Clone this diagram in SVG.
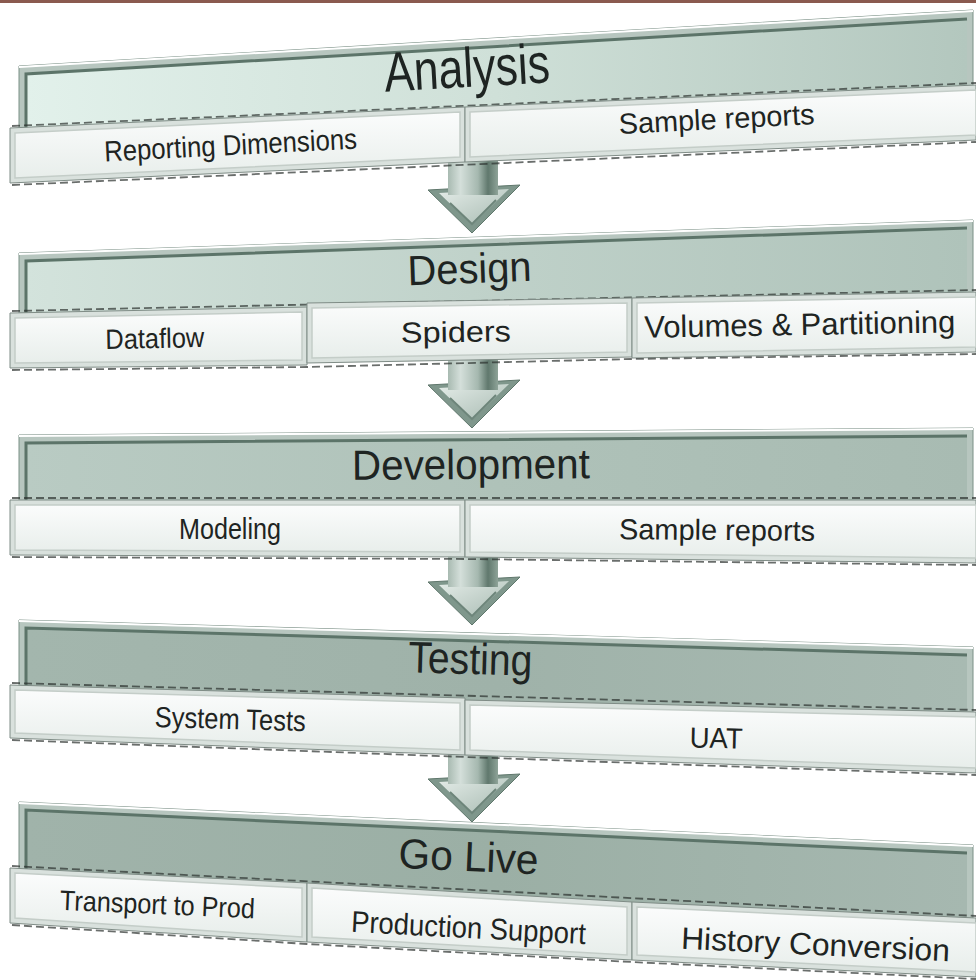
<svg xmlns="http://www.w3.org/2000/svg" width="976" height="980" viewBox="0 0 976 980">
<defs>
<linearGradient id="gA" x1="0" y1="0" x2="1" y2="0"><stop offset="0" stop-color="#e2f1eb"/><stop offset="0.5" stop-color="#cfe0d8"/><stop offset="1" stop-color="#b3c7be"/></linearGradient>
<linearGradient id="gD" x1="0" y1="0" x2="1" y2="0"><stop offset="0" stop-color="#d3e3dc"/><stop offset="0.5" stop-color="#bfd1c9"/><stop offset="1" stop-color="#afc3ba"/></linearGradient>
<linearGradient id="gV" x1="0" y1="0" x2="1" y2="0"><stop offset="0" stop-color="#b9cbc3"/><stop offset="0.5" stop-color="#afc2b9"/><stop offset="1" stop-color="#a8bbb2"/></linearGradient>
<linearGradient id="gT" x1="0" y1="0" x2="1" y2="0"><stop offset="0" stop-color="#a3b6ad"/><stop offset="0.5" stop-color="#9fb2a9"/><stop offset="1" stop-color="#a8bab2"/></linearGradient>
<linearGradient id="gG" x1="0" y1="0" x2="1" y2="0"><stop offset="0" stop-color="#a0b3aa"/><stop offset="0.5" stop-color="#9bafa5"/><stop offset="1" stop-color="#a6b8b0"/></linearGradient>
<linearGradient id="sub" x1="0" y1="0" x2="0" y2="1"><stop offset="0" stop-color="#fbfcfc"/><stop offset="1" stop-color="#e8eeeb"/></linearGradient>
<linearGradient id="shaft" x1="0" y1="0" x2="1" y2="0"><stop offset="0" stop-color="#a8bab1"/><stop offset="0.25" stop-color="#d4dfda"/><stop offset="0.6" stop-color="#a5b8af"/><stop offset="0.8" stop-color="#60786d"/><stop offset="1" stop-color="#8ea398"/></linearGradient>
<linearGradient id="headg" x1="0" y1="0" x2="1" y2="1"><stop offset="0" stop-color="#e4ece8"/><stop offset="1" stop-color="#a7bab1"/></linearGradient>
<g id="arrow">
<polygon points="-44,-43 48,-48 0,0" fill="#7f978c" stroke="#5f776c" stroke-width="1"/>
<polygon points="-33,-40 37,-44 0,-8" fill="url(#headg)"/>
<polyline points="-22,-30 0,-9 24,-33" fill="none" stroke="#6d857a" stroke-width="2"/>
<rect x="-24" y="-78" width="50" height="40" fill="url(#shaft)"/>
</g>
</defs>
<style>
.frame{fill:#b7c6bf;stroke:#7b9086;stroke-width:1}
.hl{fill:none;stroke:#ffffff;stroke-width:2}
.edge{fill:none;stroke:#5c7469;stroke-width:3}
.sub{fill:#d9e1dd;stroke:#7f8c86;stroke-width:1}
.subin{fill:url(#sub);stroke:#c4cdc8;stroke-width:1.5}
.dash{fill:none;stroke:#2b302e;stroke-width:1.8;stroke-dasharray:8 4;opacity:0.7}
.t{font-family:"Liberation Sans",Arial,sans-serif;fill:#1e2422;text-anchor:middle}
</style>
<rect x="0" y="0" width="976" height="980" fill="#ffffff"/>
<rect x="0" y="0" width="976" height="3" fill="#8a5a4f"/>

<g id="connectors">
<use href="#arrow" transform="translate(472,233)"/>
<use href="#arrow" transform="translate(472,428)"/>
<use href="#arrow" transform="translate(472,625)"/>
<use href="#arrow" transform="translate(472,822)"/>
</g>

<g id="analysis">
<polygon class="frame" points="19,66 973,10 973,92 19,134"/>
<polygon points="25,73 967,18 967,92 25,134" fill="url(#gA)"/>
<polyline class="edge" points="26,134 26,74 967,19"/>
<line class="hl" x1="19" y1="67" x2="973" y2="11"/>
<polyline class="dash" points="12,126 976,83"/>
<g id="analysis-reporting">
<polygon class="sub" points="10,128 465,107 465,162 10,183"/>
<polygon class="subin" points="15,133 460,112 460,157 15,178"/>
<text class="t" x="231" y="155" font-size="29" textLength="253" lengthAdjust="spacingAndGlyphs" transform="rotate(-2.9 231 155)">Reporting Dimensions</text>
</g>
<g id="analysis-sample">
<polygon class="sub" points="465,107 976,85 976,140 465,162"/>
<polygon class="subin" points="470,112 976,90 976,135 470,157"/>
<text class="t" x="717" y="129" font-size="29" textLength="196" lengthAdjust="spacingAndGlyphs" transform="rotate(-2.9 717 129)">Sample reports</text>
</g>
<polyline class="dash" points="12,185 976,142"/>
<text class="t" x="468" y="87" font-size="56" textLength="166" lengthAdjust="spacingAndGlyphs" transform="rotate(-3.2 468 87)">Analysis</text>
</g>

<g id="design">
<polygon class="frame" points="19,253 973,220 973,298 19,318"/>
<polygon points="25,260 967,227 967,298 25,318" fill="url(#gD)"/>
<polyline class="edge" points="26,318 26,261 967,228"/>
<line class="hl" x1="19" y1="254" x2="973" y2="221"/>
<polyline class="dash" points="12,311 976,290"/>
<text class="t" x="470" y="283" font-size="42" textLength="124" lengthAdjust="spacingAndGlyphs" transform="rotate(-2 470 283)">Design</text>
<g id="design-dataflow">
<polygon class="sub" points="10,313 307,307 307,365 10,368"/>
<polygon class="subin" points="15,318 302,312 302,360 15,363"/>
<text class="t" x="155" y="348" font-size="28" textLength="99" lengthAdjust="spacingAndGlyphs" transform="rotate(-1.2 155 348)">Dataflow</text>
</g>
<g id="design-spiders">
<polygon class="sub" points="307,303 632,298 632,357 307,363"/>
<polygon class="subin" points="312,308 627,303 627,352 312,358"/>
<text class="t" x="456" y="342" font-size="29" textLength="110" lengthAdjust="spacingAndGlyphs" transform="rotate(-0.9 456 342)">Spiders</text>
</g>
<g id="design-volumes">
<polygon class="sub" points="632,298 976,292 976,352 632,358"/>
<polygon class="subin" points="637,303 976,297 976,347 637,353"/>
<text class="t" x="800" y="335" font-size="31" textLength="311" lengthAdjust="spacingAndGlyphs" transform="rotate(-1 800 335)">Volumes &amp; Partitioning</text>
</g>
<polyline class="dash" points="12,370 307,367 632,359 976,354"/>
</g>

<g id="development">
<polygon class="frame" points="19,435 973,428 973,505 19,505"/>
<polygon points="25,442 967,435 967,505 25,505" fill="url(#gV)"/>
<polyline class="edge" points="26,505 26,443 967,436"/>
<line class="hl" x1="19" y1="436" x2="973" y2="429"/>
<polyline class="dash" points="12,498 976,498"/>
<text class="t" x="471" y="479" font-size="42" textLength="238" lengthAdjust="spacingAndGlyphs" transform="rotate(-0.4 471 479)">Development</text>
<g id="development-modeling">
<polygon class="sub" points="10,500 465,500 465,557 10,555"/>
<polygon class="subin" points="15,505 460,505 460,552 15,550"/>
<text class="t" x="230" y="539" font-size="29" textLength="102" lengthAdjust="spacingAndGlyphs">Modeling</text>
</g>
<g id="development-sample">
<polygon class="sub" points="465,500 976,500 976,563 465,557"/>
<polygon class="subin" points="470,505 976,505 976,558 470,552"/>
<text class="t" x="717" y="540" font-size="29" textLength="196" lengthAdjust="spacingAndGlyphs" transform="rotate(0.5 717 540)">Sample reports</text>
</g>
<polyline class="dash" points="12,557 465,559 976,565"/>
</g>

<g id="testing">
<polygon class="frame" points="19,620 973,647 973,715 19,690"/>
<polygon points="25,627 967,654 967,715 25,690" fill="url(#gT)"/>
<polyline class="edge" points="26,690 26,628 967,655"/>
<line class="hl" x1="19" y1="621" x2="973" y2="648"/>
<polyline class="dash" points="12,683 976,710"/>
<text class="t" x="470" y="674" font-size="44" textLength="124" lengthAdjust="spacingAndGlyphs" transform="rotate(1.6 470 674)">Testing</text>
<g id="testing-system">
<polygon class="sub" points="10,685 465,698 465,755 10,738"/>
<polygon class="subin" points="15,690 460,703 460,750 15,733"/>
<text class="t" x="230" y="729" font-size="29" textLength="151" lengthAdjust="spacingAndGlyphs" transform="rotate(1.6 230 729)">System Tests</text>
</g>
<g id="testing-uat">
<polygon class="sub" points="465,700 976,712 976,773 465,755"/>
<polygon class="subin" points="470,705 976,717 976,768 470,750"/>
<text class="t" x="716" y="748" font-size="29" textLength="53" lengthAdjust="spacingAndGlyphs" transform="rotate(1.3 716 748)">UAT</text>
</g>
<polyline class="dash" points="12,740 465,757 976,775"/>
</g>

<g id="golive">
<polygon class="frame" points="19,802 973,845 973,920 19,872"/>
<polygon points="25,809 967,852 967,920 25,872" fill="url(#gG)"/>
<polyline class="edge" points="26,872 26,810 967,853"/>
<line class="hl" x1="19" y1="803" x2="973" y2="846"/>
<polyline class="dash" points="12,866 976,916"/>
<text class="t" x="468" y="871" font-size="42" textLength="140" lengthAdjust="spacingAndGlyphs" transform="rotate(2.6 468 871)">Go Live</text>
<g id="golive-transport">
<polygon class="sub" points="10,868 307,883 307,942 10,923"/>
<polygon class="subin" points="15,873 302,888 302,937 15,918"/>
<text class="t" x="157" y="914" font-size="28" textLength="195" lengthAdjust="spacingAndGlyphs" transform="rotate(2.5 157 914)">Transport to Prod</text>
</g>
<g id="golive-support">
<polygon class="sub" points="307,883 632,902 632,960 307,942"/>
<polygon class="subin" points="312,888 627,907 627,955 312,937"/>
<text class="t" x="468" y="938" font-size="30" textLength="235" lengthAdjust="spacingAndGlyphs" transform="rotate(3 468 938)">Production Support</text>
</g>
<g id="golive-history">
<polygon class="sub" points="632,902 976,918 976,977 632,960"/>
<polygon class="subin" points="637,907 976,923 976,972 637,955"/>
<text class="t" x="815" y="955" font-size="31" textLength="269" lengthAdjust="spacingAndGlyphs" transform="rotate(2.7 815 955)">History Conversion</text>
</g>
<polyline class="dash" points="12,925 307,944 632,962 976,979"/>
</g>
</svg>
